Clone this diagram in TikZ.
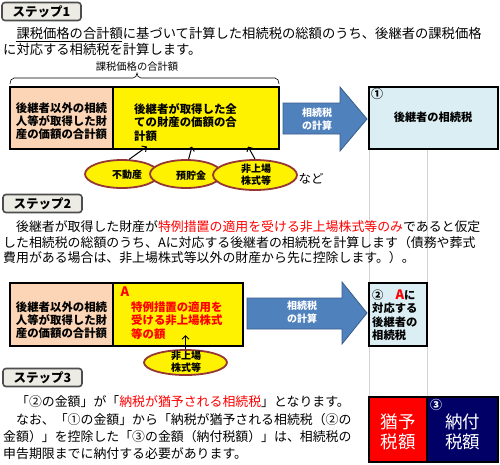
\documentclass[tikz,border=0pt]{standalone}
\usepackage{fontspec}
\setmainfont{Noto Sans CJK JP}
\usetikzlibrary{shapes.geometric,arrows.meta}
\definecolor{peach}{HTML}{FBD5B5}
\definecolor{ltblue}{HTML}{DAEEF3}
\definecolor{arrblue}{HTML}{4F81BD}
\definecolor{arredge}{HTML}{385D8A}
\definecolor{navy}{HTML}{000066}
\definecolor{elledge}{HTML}{953735}
\definecolor{lblfill}{HTML}{ECECE4}
\definecolor{lbledge}{HTML}{4D4D4D}
\definecolor{gridgray}{HTML}{D4D4D4}
\newcommand{\fs}[2]{\fontsize{#1}{#2}\selectfont}
\begin{document}
\begin{tikzpicture}[x=1pt,y=-1pt,
  steplbl/.style={draw=lbledge,fill=lblfill,line width=1.6pt,rounded corners=3pt,
    minimum width=79pt,minimum height=18pt,inner sep=0pt,font=\bfseries\fs{12.5}{14}},
  para/.style={anchor=west,inner sep=0pt,font=\fs{13.3}{16}},
  para2/.style={anchor=west,inner sep=0pt,font=\fs{12.9}{16}},
  boxshape/.style={draw=black,line width=1.5pt,inner sep=0pt},
  boxtxt/.style={inner sep=0pt,align=left,font=\bfseries\fs{11.4}{13.2}},
  ellshape/.style={ellipse,draw=elledge,line width=1.8pt,fill=yellow,inner sep=0pt},
  elltxt/.style={inner sep=0pt,align=center,font=\bfseries\fs{10}{12}},
  blockarrow/.style={fill=arrblue,draw=arredge,line width=0.8pt},
  arrtxt/.style={inner sep=0pt,align=center,text=white,font=\bfseries\fs{10}{13.5}},
  pointer/.style={line width=1pt,-{Straight Barb[length=3.5pt,width=7pt]}}
]
\useasboundingbox (0,0) rectangle (500,464);
\fill[white] (0,0) rectangle (500,464);

% grid lines
\draw[gridgray,line width=0.8pt] (369,149) -- (369,397);
\draw[gridgray,line width=0.8pt] (427,149) -- (427,397);

% ---------------- Step 1
\node[steplbl] (s1) at (41.5,11.5) {ステップ1};
\node[para] (s1l1) at (3,33) {　課税価格の合計額に基づいて計算した相続税の総額のうち、後継者の課税価格};
\node[para] (s1l2) at (3,49) {に対応する相続税を計算します。};
\coordinate (ul1) at (16,41);
\coordinate (ul2) at (122,41);
\draw[line width=0.7pt] (ul1) -- (ul2);

\node[inner sep=0pt,font=\fs{10.3}{12}] (brl) at (137,67) {課税価格の合計額};
\draw[line width=0.6pt] (10,84) to[out=90,in=180] (14,78) -- (133,78)
  to[out=0,in=-90] (137,73) to[out=-90,in=180] (141,78) -- (275,78)
  to[out=0,in=90] (279,84);

\node[boxshape,fill=peach,minimum width=103pt,minimum height=62pt] (p1) at (61.5,118) {};
\node[boxshape,fill=yellow,minimum width=166pt,minimum height=62pt] (y1) at (196,118) {};
\node[boxtxt] (p1t) at (61.5,121) {後継者以外の相続\\人等が取得した財\\産の価額の合計額};
\node[boxtxt,anchor=west] (y1t) at (134,122.5) {後継者が取得した全\\ての財産の価額の合\\計額};

\filldraw[blockarrow] (283,103) -- (340,103) -- (340,87) -- (367,119) -- (340,151) -- (340,134) -- (283,134) -- cycle;
\node[arrtxt] (a1t) at (317,119) {相続税\\の計算};

\node[boxshape,fill=ltblue,minimum width=129pt,minimum height=62pt] (r1) at (433.5,118) {};
\node[inner sep=0pt,font=\bfseries\fs{12}{12}] (c1) at (377,94) {①};
\node[inner sep=0pt,font=\bfseries\fs{11.2}{13}] (r1t) at (433,117) {後継者の相続税};

\node[ellshape,minimum width=74pt,minimum height=28pt] (e1) at (122,174) {};
\node[elltxt] (e1t) at (127,175) {不動産};
\node[ellshape,minimum width=72pt,minimum height=28pt] (e2) at (186,174) {};
\node[elltxt] (e2t) at (191,176) {預貯金};
\node[ellshape,minimum width=84pt,minimum height=30pt] (e3) at (255,175) {};
\node[elltxt] (e3t) at (256,175) {非上場\\株式等};
\node[inner sep=0pt,font=\fs{12.5}{14}] (nado) at (311,179) {など};

\coordinate (t1) at (147,146.5);
\coordinate (t2) at (192,146.5);
\coordinate (t3) at (248,146.5);
\draw[pointer] (e1.64) -- (t1);
\draw[pointer] (e2.80) -- (t2);
\draw[pointer] (e3.north) -- (t3);

% ---------------- Step 2
\node[steplbl] (s2) at (42.5,203.5) {ステップ2};
\node[para2] (s2l1) at (3,227) {　後継者が取得した財産が\textcolor{red}{特例措置の適用を受ける非上場株式等のみ}であると仮定};
\node[para2] (s2l2) at (3,242.5) {した相続税の総額のうち、Aに対応する後継者の相続税を計算します（債務や葬式};
\node[para2] (s2l3) at (3,258) {費用がある場合は、非上場株式等以外の財産から先に控除します。）。};

\node[boxshape,fill=peach,minimum width=103pt,minimum height=63pt] (p2) at (61.5,314.5) {};
\node[boxshape,fill=yellow,minimum width=130pt,minimum height=63pt] (y2) at (178,314.5) {};
\node[boxtxt] (p2t) at (61.5,320) {後継者以外の相続\\人等が取得した財\\産の価額の合計額};
\node[inner sep=0pt,text=red,font=\bfseries\fs{13}{13}] (A) at (125,292) {A};
\node[boxtxt,anchor=west,text=red] (y2t) at (131,320.5) {特例措置の適用を\\受ける非上場株式\\等の額};

\node[ellshape,minimum width=83pt,minimum height=25pt] (e4) at (185.5,362.5) {};
\node[elltxt] (e4t) at (186,362) {非上場\\株式等};
\coordinate (t4) at (185.5,335);
\draw[pointer] (e4.north) -- (t4);

\filldraw[blockarrow] (247,298) -- (342,298) -- (342,282) -- (367,313) -- (342,344) -- (342,329) -- (247,329) -- cycle;
\node[arrtxt] (a2t) at (302,312) {相続税\\の計算};

\node[boxshape,line width=2pt,fill=ltblue,minimum width=58pt,minimum height=63pt] (r2) at (398,314.5) {};
\node[boxtxt,anchor=west,font=\bfseries\fs{11.3}{13.4}] (r2t) at (372,315) {②\hspace{12pt}{\color{red}\fs{13}{13.4}A}に\\対応する\\後継者の\\相続税};

% ---------------- Step 3
\node[steplbl] (s3) at (42.5,377.5) {ステップ3};
\node[para2] (s3l1) at (3,402) {　「②の金額」が「\textcolor{red}{納税が猶予される相続税}」となります。};
\node[para2] (s3l2) at (3,420) {　なお、「①の金額」から「納税が猶予される相続税（②の};
\node[para2] (s3l3) at (3,437) {金額）」を控除した「③の金額（納付税額）」は、相続税の};
\node[para2] (s3l4) at (3,454) {申告期限までに納付する必要があります。};

\node[boxshape,line width=2pt,fill=red,minimum width=58pt,minimum height=65pt] (rb) at (398,429.5) {};
\node[boxshape,line width=2pt,fill=navy,minimum width=71pt,minimum height=65pt] (nb) at (462.5,429.5) {};
\node[inner sep=0pt,align=center,text=white,font=\fs{17.5}{20}] (rbt) at (398,432) {猶予\\税額};
\node[inner sep=0pt,align=center,text=white,font=\fs{17.5}{20}] (nbt) at (462.5,432) {納付\\税額};
\node[inner sep=0pt,text=white,font=\bfseries\fs{12}{12}] (c3) at (436,405) {③};
\end{tikzpicture}
\end{document}
